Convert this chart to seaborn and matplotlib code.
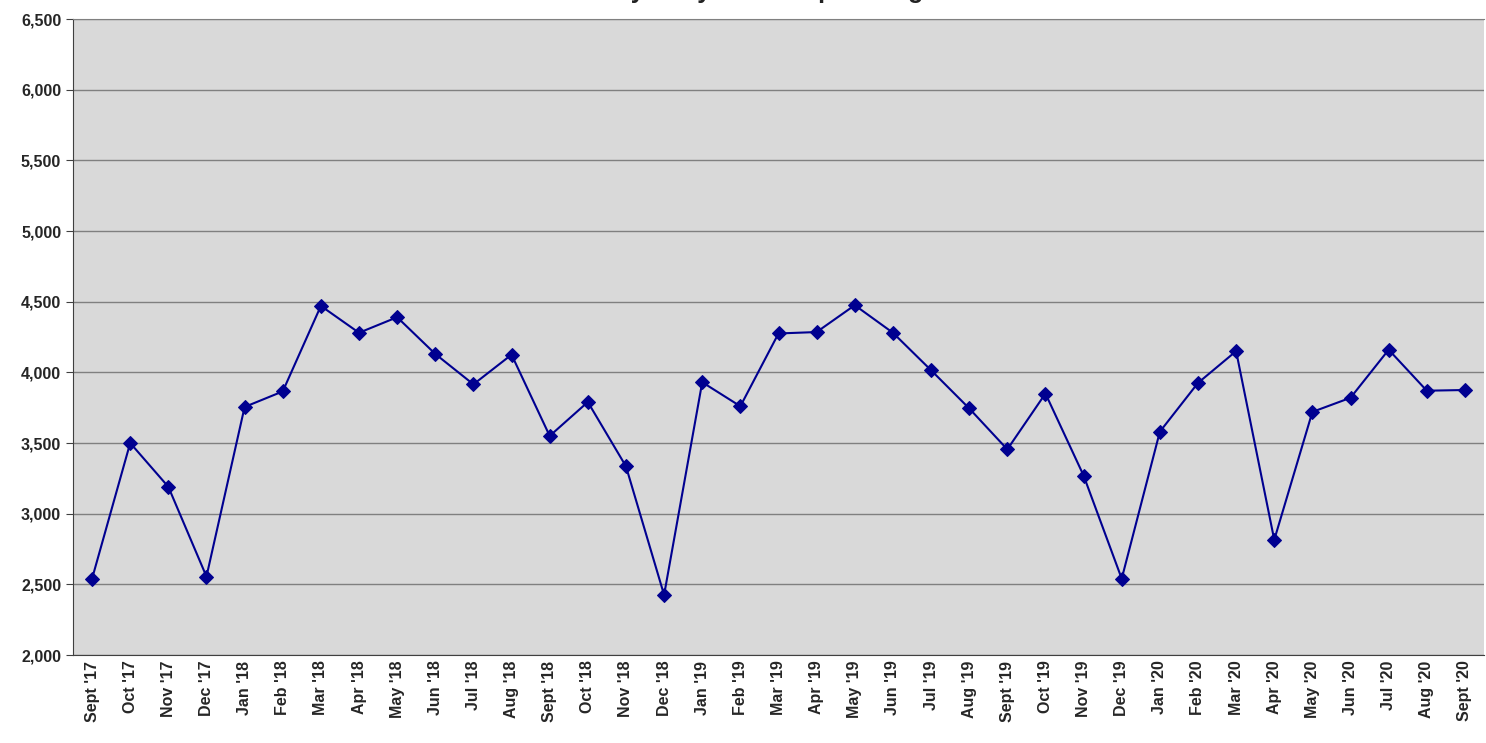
import matplotlib
matplotlib.use("Agg")
import matplotlib.pyplot as plt
import seaborn as sns
import numpy as np

months = ["Sept '17","Oct '17","Nov '17","Dec '17","Jan '18","Feb '18","Mar '18","Apr '18","May '18","Jun '18","Jul '18","Aug '18",
          "Sept '18","Oct '18","Nov '18","Dec '18","Jan '19","Feb '19","Mar '19","Apr '19","May '19","Jun '19","Jul '19","Aug '19",
          "Sept '19","Oct '19","Nov '19","Dec '19","Jan '20","Feb '20","Mar '20","Apr '20","May '20","Jun '20","Jul '20","Aug '20","Sept '20"]
values = [2540,3500,3190,2555,3755,3865,4470,4280,4390,4130,3915,4125,
          3550,3790,3335,2425,3930,3760,4275,4285,4475,4280,4015,3745,
          3455,3850,3270,2540,3580,3925,4150,2815,3720,3820,4160,3870,3875]

sns.set_style("white")
plt.rcParams['font.family'] = ['Liberation Sans', 'DejaVu Sans']
fig = plt.figure(figsize=(14.86, 7.43), dpi=100)
ax = fig.add_axes([73/1486, 1-655/743, 1411/1486, 636/743])
ax.set_facecolor('#d9d9d9')
x = np.arange(len(months))
sns.lineplot(x=x, y=values, ax=ax, color='#000090', marker='D', markersize=7,
             markeredgecolor='#000090', linewidth=1.5)
ax.set_xlim(-0.5, len(months)-0.5)
ax.set_ylim(2000, 6500)
ax.set_yticks(range(2000, 6501, 500))
ax.set_yticklabels([f"{v:,}" for v in range(2000, 6501, 500)], fontsize=11.5, fontweight='bold', color='#262626')
ax.yaxis.grid(True, color='#808080', linewidth=1)
ax.set_axisbelow(True)
ax.set_xticks(x)
ax.set_xticklabels(months, rotation=90, fontsize=11.5, fontweight='bold', color='#262626')
ax.set_xticks(np.arange(-0.5, len(months)), minor=True)
ax.tick_params(axis='x', which='major', length=0, pad=4)
ax.tick_params(axis='x', which='minor', length=6, color='#404040')
ax.tick_params(axis='y', length=5, color='#404040', left=True)
ax.spines['right'].set_visible(False)
ax.spines['top'].set_color('#808080')
for s in ['left', 'bottom']:
    ax.spines[s].set_color('#404040')
fig.text(0.5, 1 + 2/743, "Monthly Daily Ridership Average", ha='center', va='baseline',
         fontsize=18, fontweight='bold', color='#222222')
fig.savefig("out.png", dpi=100)
